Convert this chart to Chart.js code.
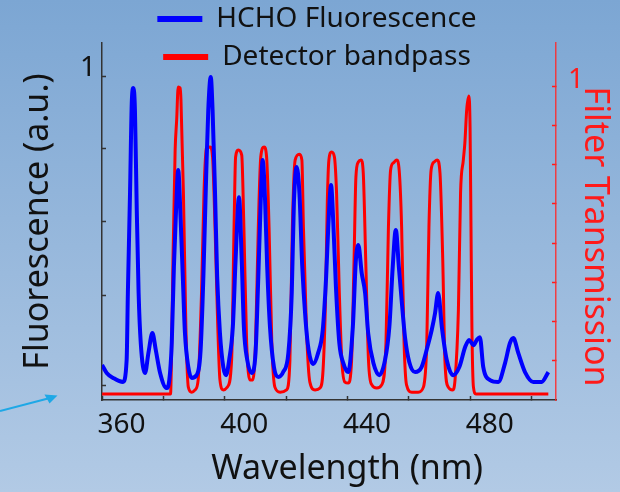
<!DOCTYPE html>
<html>
<head>
<meta charset="utf-8">
<script src="https://cdn.jsdelivr.net/npm/chart.js@4.4.1/dist/chart.umd.min.js"></script>
<style>
  html, body { margin: 0; padding: 0; }
  body {
    width: 620px;
    height: 492px;
    overflow: hidden;
    background: linear-gradient(#7ca6d3, #b2cae5);
  }
  canvas { display: block; }
</style>
</head>
<body>
<canvas id="chart" width="620" height="492"></canvas>
<script>
// HCHO fluorescence spectrum (left axis, a.u.)
const blueWl = [353.7, 355.2, 357.3, 360.5, 361.7, 362.1, 362.8, 363.4, 363.9, 364.4,
  365.0, 365.6, 366.3, 367.7, 368.8, 370.1, 371.2, 372.6, 374.7, 375.6,
  376.4, 377.1, 377.8, 378.5, 379.3, 380.0, 380.7, 381.8, 382.9, 384.5,
  385.8, 386.7, 387.6, 388.3, 389.1, 389.7, 390.5, 391.2, 392.1, 393.2,
  394.1, 395.1, 396.3, 397.2, 398.3, 399.2, 399.9, 401.0, 402.4, 403.7,
  404.6, 405.4, 406.0, 406.8, 407.5, 408.4, 409.7, 411.1, 412.7, 414.4,
  415.5, 416.2, 417.1, 418.0, 418.9, 420.0, 421.0, 422.5, 424.1, 425.6,
  426.7, 427.4, 428.3, 429.0, 429.9, 431.0, 432.3, 433.9, 435.4, 436.4,
  437.2, 438.3, 439.4, 440.4, 442.1, 444.0, 445.9, 447.3, 448.4, 449.4,
  450.4, 451.3, 452.4, 453.8, 455.7, 457.8, 459.7, 461.1, 462.2, 463.2,
  464.4, 466.0, 468.1, 470.1, 472.0, 473.3, 474.7, 475.8, 476.8, 477.9,
  480.1, 482.8, 485.0, 486.6, 487.7, 489.3, 491.5, 494.2, 496.9, 499.1];
const blueVal = [0.065, 0.039, 0.023, 0.010, 0.081, 0.298, 0.621, 0.922, 0.961, 0.890,
  0.566, 0.298, 0.136, 0.039, 0.104, 0.168, 0.113, 0.039, -0.010, 0.016,
  0.136, 0.382, 0.566, 0.696, 0.534, 0.350, 0.168, 0.058, 0.023, 0.032,
  0.113, 0.350, 0.673, 0.890, 0.997, 0.890, 0.621, 0.350, 0.168, 0.058,
  0.032, 0.081, 0.188, 0.405, 0.608, 0.405, 0.188, 0.081, 0.039, 0.104,
  0.350, 0.599, 0.728, 0.599, 0.382, 0.188, 0.058, 0.026, 0.042, 0.104,
  0.298, 0.589, 0.706, 0.621, 0.388, 0.210, 0.113, 0.068, 0.104, 0.178,
  0.350, 0.511, 0.647, 0.534, 0.317, 0.136, 0.071, 0.042, 0.188, 0.405,
  0.453, 0.362, 0.298, 0.168, 0.071, 0.032, 0.081, 0.188, 0.382, 0.502,
  0.382, 0.275, 0.155, 0.074, 0.042, 0.058, 0.123, 0.178, 0.233, 0.298,
  0.188, 0.081, 0.032, 0.058, 0.123, 0.146, 0.129, 0.146, 0.155, 0.058,
  0.016, 0.010, 0.071, 0.136, 0.152, 0.104, 0.042, 0.010, 0.010, 0.042];

// detector bandpass filter (right axis, transmission)
const redWl = [353.7, 376.0, 376.3, 376.8, 377.5, 378.0, 378.5, 379.1, 379.4, 380.2,
  381.0, 381.8, 382.9, 384.0, 385.0, 386.1, 386.9, 387.6, 388.9, 389.7,
  390.5, 391.4, 392.1, 393.2, 394.5, 395.9, 396.7, 397.2, 398.1, 399.2,
  399.9, 400.8, 401.9, 402.8, 403.7, 404.6, 405.4, 406.5, 407.3, 408.1,
  409.0, 410.0, 411.7, 413.8, 414.9, 415.7, 416.6, 418.0, 418.8, 419.3,
  420.3, 421.4, 423.1, 424.7, 425.7, 426.5, 427.1, 427.6, 428.5, 429.4,
  430.1, 431.0, 431.8, 432.8, 433.9, 435.0, 435.8, 436.4, 437.2, 438.1,
  438.8, 439.6, 440.5, 441.6, 443.2, 444.8, 446.2, 447.0, 447.7, 448.6,
  449.7, 450.5, 451.3, 452.1, 452.9, 454.6, 456.7, 458.4, 459.5, 460.2,
  460.9, 461.9, 462.9, 463.8, 464.7, 465.4, 466.5, 467.9, 468.7, 469.8,
  470.5, 471.4, 471.9, 472.5, 473.2, 473.6, 473.9, 474.2, 474.7, 475.5, 499.1];
const redVal = [0.019, 0.019, 0.127, 0.446, 0.796, 0.892, 0.997, 0.994, 0.955, 0.659,
  0.232, 0.041, 0.025, 0.032, 0.064, 0.341, 0.659, 0.803, 0.806, 0.774,
  0.551, 0.232, 0.064, 0.032, 0.041, 0.127, 0.551, 0.774, 0.796, 0.780,
  0.551, 0.182, 0.064, 0.064, 0.182, 0.551, 0.774, 0.806, 0.774, 0.551,
  0.182, 0.041, 0.025, 0.032, 0.127, 0.551, 0.764, 0.783, 0.764, 0.551,
  0.223, 0.057, 0.032, 0.038, 0.096, 0.318, 0.637, 0.764, 0.790, 0.774,
  0.659, 0.341, 0.127, 0.057, 0.054, 0.127, 0.446, 0.710, 0.758, 0.764,
  0.723, 0.446, 0.127, 0.048, 0.038, 0.048, 0.182, 0.551, 0.732, 0.755,
  0.764, 0.732, 0.551, 0.182, 0.048, 0.025, 0.025, 0.041, 0.182, 0.551,
  0.732, 0.758, 0.764, 0.723, 0.446, 0.127, 0.041, 0.032, 0.064, 0.287,
  0.659, 0.764, 0.818, 0.924, 0.968, 0.869, 0.551, 0.232, 0.041, 0.019, 0.019];

const xTickMarks = [353.7, 373.7, 393.7, 413.7, 433.7, 453.7, 473.7, 493.7];
const xTickLabels = [360, 400, 440, 480];
const leftTicks = [0, 0.29, 0.53, 0.765, 1];
const rightTicks = [0.125, 0.25, 0.375, 0.5, 0.625, 0.75, 0.875, 1];

const FONT = "'Noto Sans', 'Open Sans', sans-serif";
const INK = "#111";
const AXIS = "#333";
const RED = "#ff1a1a";

Chart.defaults.font.family = FONT;

const toPoints = (xs, ys) => xs.map((x, i) => ({ x: x, y: ys[i] }));

// legend sits partly over the plot, so only reserve part of its height
const legendOverlap = {
  id: "legendOverlap",
  afterInit(chart) {
    const legend = chart.legend;
    const fit = legend.fit;
    legend.fit = function () {
      fit.call(this);
      this.fullHeight = this.height;
      this.height = 48;
    };
  },
  afterLayout(chart) {
    const legend = chart.legend;
    legend.height = legend.fullHeight;
    legend.bottom = legend.top + legend.fullHeight;
    legend.left += 7;
    legend.right += 7;
    // nudge the two title-only axes so the titles sit where the slide has them
    const area = chart.chartArea;
    const xt = chart.scales.xT;
    xt.left = area.left + 18;
    xt.right = area.right + 18;
    const rt = chart.scales.yRT;
    rt.top = area.top + 15;
    rt.bottom = area.bottom + 15;
  },
};

// little arrow on the slide, left of the plot
const slideArrow = {
  id: "slideArrow",
  afterDraw(chart) {
    const ctx = chart.ctx;
    ctx.save();
    ctx.strokeStyle = "#1ea8e6";
    ctx.fillStyle = "#1ea8e6";
    ctx.lineWidth = 2;
    ctx.beginPath();
    ctx.moveTo(0, 411);
    ctx.lineTo(48, 398.5);
    ctx.stroke();
    ctx.beginPath();
    ctx.moveTo(57.5, 395.5);
    ctx.lineTo(44.5, 394.5);
    ctx.lineTo(49.5, 403.5);
    ctx.closePath();
    ctx.fill();
    ctx.restore();
  },
};

const config = {
  type: "line",
  data: {
    datasets: [
      {
        label: "HCHO Fluorescence",
        data: toPoints(blueWl, blueVal),
        borderColor: "#0000ff",
        borderWidth: 4,
        pointRadius: 0,
        cubicInterpolationMode: "monotone",
        xAxisID: "x",
        yAxisID: "yL",
      },
      {
        label: "Detector bandpass",
        data: toPoints(redWl, redVal),
        borderColor: "#ff0000",
        borderWidth: 3,
        pointRadius: 0,
        cubicInterpolationMode: "monotone",
        xAxisID: "x",
        yAxisID: "yR",
      },
    ],
  },
  options: {
    responsive: false,
    animation: false,
    devicePixelRatio: 1,
    layout: { padding: { top: -5, left: 0, right: 0, bottom: 0 } },
    plugins: {
      tooltip: { enabled: false },
      legend: {
        position: "top",
        labels: {
          usePointStyle: true,
          pointStyle: "line",
          pointStyleWidth: 45,
          padding: 10,
          color: INK,
          font: { size: 28 },
          generateLabels: (chart) =>
            Chart.defaults.plugins.legend.labels
              .generateLabels(chart)
              .map((l) => ({ ...l, lineWidth: 6 })),
        },
      },
    },
    scales: {
      x: {
        type: "linear",
        position: "bottom",
        min: 353.67,
        max: 501.6,
        afterBuildTicks: (s) => {
          s.ticks = [...xTickMarks, ...xTickLabels]
            .sort((a, b) => a - b)
            .map((v) => ({ value: v }));
        },
        ticks: {
          autoSkip: false,
          maxRotation: 0,
          padding: 12,
          color: INK,
          font: { size: 28 },
          callback: (v) => (xTickLabels.includes(v) ? String(v) : ""),
        },
        grid: {
          drawOnChartArea: false,
          tickLength: -4,
          tickWidth: 1.5,
          tickColor: (c) =>
            c.tick && xTickLabels.includes(c.tick.value) ? "rgba(0,0,0,0)" : AXIS,
        },
        border: { color: AXIS, width: 1.5 },
        afterFit: (s) => { s.height = 48; },
      },
      xT: {
        type: "linear",
        position: "bottom",
        weight: 1,
        grid: { display: false },
        border: { display: false },
        ticks: { display: false },
        title: {
          display: true,
          text: "Wavelength (nm)",
          color: INK,
          font: { size: 34 },
          padding: { top: 0, bottom: 2 },
        },
        afterFit: (s) => { s.height = 44; },
      },
      yL: {
        type: "linear",
        position: "left",
        min: -0.0485,
        max: 1.107,
        afterBuildTicks: (s) => {
          s.ticks = leftTicks.map((v) => ({ value: v }));
        },
        ticks: {
          autoSkip: false,
          padding: 10,
          labelOffset: -8,
          color: INK,
          font: { size: 28 },
          callback: (v) => (v === 1 ? "1" : ""),
        },
        grid: { drawOnChartArea: false, tickLength: -4, tickWidth: 1.5, tickColor: AXIS },
        border: { color: AXIS, width: 1.5 },
        title: {
          display: true,
          text: "Fluorescence (a.u.)",
          color: INK,
          font: { size: 34 },
          padding: { top: 18, bottom: 0 },
        },
        afterFit: (s) => { s.width = 102; },
      },
      yR: {
        type: "linear",
        position: "right",
        min: 0,
        max: 1.137,
        afterBuildTicks: (s) => {
          s.ticks = rightTicks.map((v) => ({ value: v }));
        },
        ticks: {
          autoSkip: false,
          padding: 16,
          labelOffset: -6,
          color: RED,
          font: { size: 28 },
          callback: (v) => (v === 1 ? "1" : ""),
        },
        grid: { drawOnChartArea: false, tickLength: -4, tickWidth: 1.5, tickColor: RED },
        border: { color: "rgba(255,40,40,0.85)", width: 1.5 },
        afterFit: (s) => { s.width = 30; },
      },
      yRT: {
        type: "linear",
        position: "right",
        weight: 1,
        grid: { display: false },
        border: { display: false },
        ticks: { display: false },
        title: {
          display: true,
          text: "Filter Transmission",
          color: RED,
          font: { size: 34 },
          padding: { top: 5, bottom: 0 },
        },
        afterFit: (s) => { s.width = 34; },
      },
    },
  },
  plugins: [legendOverlap, slideArrow],
};

const chart = new Chart(document.getElementById("chart").getContext("2d"), config);
</script>
</body>
</html>
